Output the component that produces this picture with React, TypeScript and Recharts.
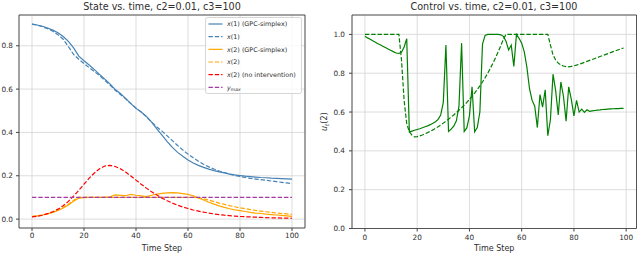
import React from 'react';
import { LineChart, Line, XAxis, YAxis, CartesianGrid, ReferenceLine, ReferenceArea } from 'recharts';

const FONT = '"DejaVu Sans", sans-serif';
const INK = '#2e2e2e';
const BLUE = '#4682b4';
const ORANGE = '#ffa500';
const RED = '#ff0000';
const PURPLE = '#a43aa4';
const GREEN = '#008000';
const DASH = '4.4 1.9';

const stateSteps = [0, 2, 4, 6, 8, 10, 12, 14, 16, 18, 20, 22, 24, 26, 28, 30, 32, 34, 36, 38, 40, 42, 44, 46, 48, 50,
  52, 54, 56, 58, 60, 62, 64, 66, 68, 70, 72, 74, 76, 78, 80, 82, 84, 86, 88, 90, 92, 94, 96, 98, 100];
const x1Gpc = [0.900, 0.896, 0.890, 0.882, 0.872, 0.860, 0.843, 0.820, 0.790, 0.752, 0.731, 0.711, 0.690, 0.668, 0.646,
  0.624, 0.598, 0.580, 0.557, 0.533, 0.511, 0.494, 0.474, 0.448, 0.417, 0.388, 0.358, 0.331, 0.308, 0.290, 0.273, 0.259,
  0.248, 0.239, 0.231, 0.224, 0.218, 0.213, 0.208, 0.204, 0.201, 0.198, 0.196, 0.194, 0.192, 0.191, 0.189, 0.188, 0.187,
  0.186, 0.185];
const x1Opt = [0.900, 0.895, 0.888, 0.879, 0.867, 0.851, 0.830, 0.796, 0.760, 0.738, 0.718, 0.699, 0.681, 0.662, 0.641,
  0.619, 0.595, 0.575, 0.555, 0.534, 0.513, 0.494, 0.472, 0.448, 0.425, 0.406, 0.384, 0.362, 0.340, 0.319, 0.300, 0.283,
  0.267, 0.253, 0.241, 0.231, 0.222, 0.215, 0.208, 0.202, 0.197, 0.192, 0.188, 0.185, 0.182, 0.179, 0.176, 0.173, 0.170,
  0.167, 0.164];
const x2Gpc = [0.012, 0.015, 0.019, 0.024, 0.031, 0.040, 0.051, 0.065, 0.082, 0.097, 0.099, 0.100, 0.100, 0.100, 0.101,
  0.103, 0.112, 0.110, 0.108, 0.114, 0.110, 0.107, 0.104, 0.110, 0.115, 0.119, 0.121, 0.122, 0.121, 0.118, 0.114, 0.108,
  0.098, 0.088, 0.078, 0.069, 0.061, 0.054, 0.048, 0.043, 0.039, 0.035, 0.031, 0.028, 0.026, 0.023, 0.021, 0.019, 0.017,
  0.015, 0.013];
const x2Opt = [0.012, 0.015, 0.019, 0.025, 0.032, 0.042, 0.054, 0.069, 0.087, 0.100, 0.100, 0.100, 0.100, 0.100, 0.100,
  0.100, 0.100, 0.100, 0.100, 0.100, 0.100, 0.100, 0.100, 0.100, 0.100, 0.100, 0.100, 0.100, 0.100, 0.100, 0.100, 0.100,
  0.099, 0.094, 0.088, 0.081, 0.074, 0.068, 0.062, 0.057, 0.052, 0.048, 0.044, 0.040, 0.037, 0.034, 0.031, 0.028, 0.026,
  0.024, 0.022];
const x2NoInt = [0.010, 0.013, 0.018, 0.025, 0.034, 0.046, 0.062, 0.082, 0.106, 0.133, 0.161, 0.189, 0.213, 0.232, 0.245,
  0.248, 0.243, 0.232, 0.217, 0.199, 0.180, 0.161, 0.143, 0.126, 0.111, 0.097, 0.085, 0.074, 0.064, 0.056, 0.049, 0.042,
  0.037, 0.032, 0.028, 0.024, 0.021, 0.018, 0.016, 0.014, 0.012, 0.011, 0.010, 0.009, 0.008, 0.007, 0.006, 0.006, 0.005,
  0.005, 0.004];
const Y_MAX = 0.1;

// right panel: control, one value per step
const controlSteps = [0, 1, 2, 3, 4, 5, 6, 7, 8, 9, 10, 11, 12, 13, 14, 15, 16, 17, 18, 19, 20, 21, 22, 23, 24, 25, 26,
  27, 28, 29, 30, 31, 32, 33, 34, 35, 36, 37, 38, 39, 40, 41, 42, 43, 44, 45, 46, 47, 48, 49, 50, 51, 52, 53, 54, 55, 56,
  57, 58, 59, 60, 61, 62, 63, 64, 65, 66, 67, 68, 69, 70, 71, 72, 73, 74, 75, 76, 77, 78, 79, 80, 81, 82, 83, 84, 85, 86,
  87, 88, 89, 90, 91, 92, 93, 94, 95, 96, 97, 98, 99];
const u2Gpc = [0.990, 0.982, 0.975, 0.967, 0.960, 0.952, 0.945, 0.938, 0.931, 0.924, 0.917, 0.910, 0.904, 0.902, 0.908,
  0.935, 0.978, 0.498, 0.502, 0.506, 0.510, 0.514, 0.519, 0.524, 0.529, 0.535, 0.542, 0.550, 0.562, 0.585, 0.650, 0.945,
  0.500, 0.512, 0.527, 0.555, 0.630, 0.955, 0.500, 0.518, 0.580, 0.730, 0.498, 0.520, 0.600, 0.950, 0.995, 1.000, 1.000,
  1.000, 1.000, 1.000, 0.998, 0.990, 0.965, 0.920, 0.945, 0.835, 1.000, 0.980, 0.955, 0.910, 0.830, 0.720, 0.660, 0.630,
  0.520, 0.690, 0.625, 0.715, 0.478, 0.560, 0.795, 0.710, 0.585, 0.755, 0.680, 0.553, 0.730, 0.665, 0.580, 0.660, 0.600,
  0.615, 0.598, 0.612, 0.604, 0.606, 0.608, 0.610, 0.611, 0.613, 0.614, 0.615, 0.616, 0.617, 0.618, 0.618, 0.619, 0.619];
const u2Opt = [1.000, 1.000, 1.000, 1.000, 1.000, 1.000, 1.000, 1.000, 1.000, 1.000, 1.000, 1.000, 1.000, 1.000, 0.868,
  0.660, 0.540, 0.498, 0.481, 0.472, 0.473, 0.477, 0.482, 0.488, 0.494, 0.501, 0.508, 0.516, 0.524, 0.533, 0.543, 0.553,
  0.563, 0.574, 0.585, 0.597, 0.609, 0.622, 0.636, 0.650, 0.665, 0.681, 0.698, 0.716, 0.735, 0.755, 0.777, 0.800, 0.825,
  0.852, 0.880, 0.910, 0.942, 0.975, 1.000, 1.000, 1.000, 1.000, 1.000, 1.000, 1.000, 1.000, 1.000, 1.000, 1.000, 1.000,
  1.000, 1.000, 1.000, 1.000, 1.000, 0.945, 0.895, 0.868, 0.852, 0.843, 0.837, 0.834, 0.833, 0.835, 0.838, 0.842, 0.846,
  0.851, 0.856, 0.861, 0.866, 0.871, 0.876, 0.881, 0.886, 0.891, 0.896, 0.901, 0.906, 0.911, 0.916, 0.921, 0.926, 0.930];

const xTicks = [0, 20, 40, 60, 80, 100];
const stateYTicks = [0, 0.2, 0.4, 0.6, 0.8];
const controlYTicks = [0, 0.2, 0.4, 0.6, 0.8, 1.0];

const stateData = stateSteps.map((t, i) => ({
  t, x1Gpc: x1Gpc[i], x1Opt: x1Opt[i], x2Gpc: x2Gpc[i], x2Opt: x2Opt[i], x2NoInt: x2NoInt[i],
}));
const controlData = controlSteps.map((t, i) => ({ t, u2Gpc: u2Gpc[i], u2Opt: u2Opt[i] }));

const STATE_X = [-5, 105];
const STATE_Y = [-0.041, 0.942];
const CTRL_X = [-4.95, 103.95];
const CTRL_Y = [0, 1.1];

const tickStyle = { fontSize: 7.3, fill: INK, fontFamily: FONT };
const fmt = (v: number) => v.toFixed(1);

// legend rows, top to bottom
const legendRows = [
  { label: '(1) (GPC-simplex)', v: 'x', color: BLUE, dashed: false },
  { label: '(1)', v: 'x', color: BLUE, dashed: true },
  { label: '(2) (GPC-simplex)', v: 'x', color: ORANGE, dashed: false },
  { label: '(2)', v: 'x', color: ORANGE, dashed: true },
  { label: '(2) (no intervention)', v: 'x', color: RED, dashed: true },
  { label: '', v: 'y', color: PURPLE, dashed: true },
];

const Overlay = () => (
  <svg width={640} height={255} style={{ position: 'absolute', left: 0, top: 0, pointerEvents: 'none' }}
    fontFamily={FONT} fill={INK}>
    <text x={162} y={9.6} textAnchor="middle" fontSize={9.6}>State vs. time, c2=0.01, c3=100</text>
    <text x={494} y={9.6} textAnchor="middle" fontSize={9.6}>Control vs. time, c2=0.01, c3=100</text>
    <text transform="translate(327,121.7) rotate(-90)" textAnchor="middle" fontSize={8}>
      <tspan fontStyle="italic">u</tspan>
      <tspan fontStyle="italic" fontSize={5.6} dy={1.8}>t</tspan>
      <tspan dy={-1.8}>(2)</tspan>
    </text>
    <g>
      <rect x={205.5} y={17.5} width={96} height={76} rx={2} fill="rgba(255,255,255,0.8)" stroke="#cccccc" strokeWidth={0.8} />
      {legendRows.map((r, i) => {
        const cy = 24 + i * 12.67;
        return (
          <g key={i}>
            <line x1={208.5} x2={222.5} y1={cy} y2={cy} stroke={r.color} strokeWidth={1.2}
              strokeDasharray={r.dashed ? DASH : undefined} />
            <text x={227} y={cy + 2.3} fontSize={6.4}>
              <tspan fontStyle="italic">{r.v}</tspan>
              {r.v === 'y' ? <tspan fontStyle="italic" fontSize={4.5} dy={1.5}>max</tspan> : <tspan>{r.label}</tspan>}
            </text>
          </g>
        );
      })}
    </g>
  </svg>
);

export default function App() {
  return (
    <div style={{ position: 'absolute', left: 0, top: 0, width: 640, height: 255, background: '#fff', fontFamily: FONT }}>
      <div style={{ position: 'absolute', left: 0, top: 0 }}>
        <LineChart width={320} height={255} data={stateData} margin={{ top: 15, right: 15, bottom: 0, left: 0 }}>
          <CartesianGrid stroke="#d4d4d4" strokeWidth={0.8} />
          <XAxis dataKey="t" type="number" domain={STATE_X} ticks={xTicks} allowDataOverflow height={27}
            tickSize={3} tickMargin={2} axisLine={false} tickLine={{ stroke: '#444' }} tick={tickStyle}
            label={{ value: 'Time Step', position: 'insideBottom', offset: 3.8, fontSize: 8, fill: INK, fontFamily: FONT }} />
          <YAxis type="number" domain={STATE_Y} ticks={stateYTicks} allowDataOverflow width={19}
            tickSize={3} tickMargin={3} axisLine={false} tickLine={{ stroke: '#444' }} tick={tickStyle}
            tickFormatter={fmt} />
          <Line dataKey="x1Gpc" stroke={BLUE} strokeWidth={1.2} dot={false} isAnimationActive={false} />
          <Line dataKey="x1Opt" stroke={BLUE} strokeWidth={1.2} strokeDasharray={DASH} dot={false} isAnimationActive={false} />
          <Line dataKey="x2Gpc" stroke={ORANGE} strokeWidth={1.2} dot={false} isAnimationActive={false} />
          <Line dataKey="x2Opt" stroke={ORANGE} strokeWidth={1.2} strokeDasharray={DASH} dot={false} isAnimationActive={false} />
          <Line dataKey="x2NoInt" stroke={RED} strokeWidth={1.2} strokeDasharray={DASH} dot={false} isAnimationActive={false} />
          <ReferenceLine segment={[{ x: 0, y: Y_MAX }, { x: 100, y: Y_MAX }]} stroke={PURPLE} strokeWidth={1.2}
            strokeOpacity={1} strokeDasharray={DASH} />
          <ReferenceArea x1={STATE_X[0]} x2={STATE_X[1]} y1={STATE_Y[0]} y2={STATE_Y[1]} fill="none" stroke="#444"
            strokeWidth={0.9} ifOverflow="visible" />
        </LineChart>
      </div>
      <div style={{ position: 'absolute', left: 320, top: 0 }}>
        <LineChart width={320} height={255} data={controlData} margin={{ top: 15, right: 3.5, bottom: 0, left: 0 }}>
          <CartesianGrid stroke="#d4d4d4" strokeWidth={0.8} />
          <XAxis dataKey="t" type="number" domain={CTRL_X} ticks={xTicks} allowDataOverflow height={26.5}
            tickSize={3} tickMargin={3} axisLine={false} tickLine={{ stroke: '#444' }} tick={tickStyle}
            label={{ value: 'Time Step', position: 'insideBottom', offset: 3.8, fontSize: 8, fill: INK, fontFamily: FONT }} />
          <YAxis type="number" domain={CTRL_Y} ticks={controlYTicks} allowDataOverflow width={32}
            tickSize={3} tickMargin={4} axisLine={false} tickLine={{ stroke: '#444' }} tick={tickStyle}
            tickFormatter={fmt} />
          <Line dataKey="u2Gpc" stroke={GREEN} strokeWidth={1.2} dot={false} isAnimationActive={false} />
          <Line dataKey="u2Opt" stroke={GREEN} strokeWidth={1.2} strokeDasharray={DASH} dot={false} isAnimationActive={false} />
          <ReferenceArea x1={CTRL_X[0]} x2={CTRL_X[1]} y1={CTRL_Y[0]} y2={CTRL_Y[1]} fill="none" stroke="#444"
            strokeWidth={0.9} ifOverflow="visible" />
        </LineChart>
      </div>
      <Overlay />
    </div>
  );
}
